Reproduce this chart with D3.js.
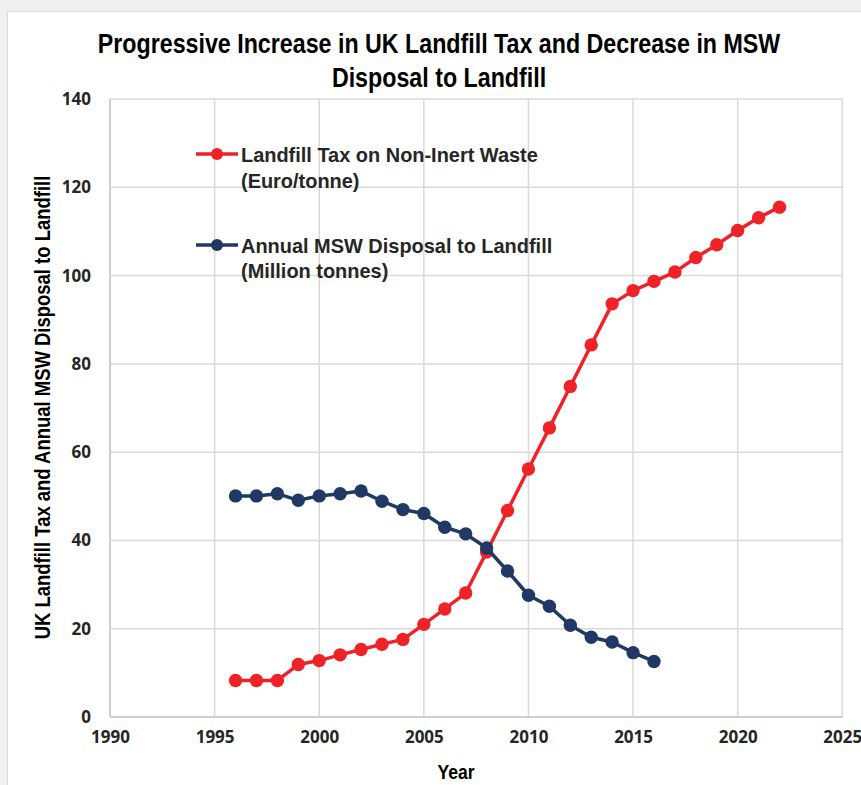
<!DOCTYPE html>
<html><head><meta charset="utf-8">
<script src="https://cdn.jsdelivr.net/npm/d3@7"></script>
<style>html,body{margin:0;padding:0;background:#f0f0f0;}svg{display:block;}</style>
</head><body>
<svg id="c" width="861" height="785"></svg>
<script>
const title = ["Progressive Increase in UK Landfill Tax and Decrease in MSW", "Disposal to Landfill"];
const xTicks = [1990, 1995, 2000, 2005, 2010, 2015, 2020, 2025];
const yTicks = [0, 20, 40, 60, 80, 100, 120, 140];
const taxYears = [1996,1997,1998,1999,2000,2001,2002,2003,2004,2005,2006,2007,2008,2009,2010,2011,2012,2013,2014,2015,2016,2017,2018,2019,2020,2021,2022];
const taxValues = [8.3,8.3,8.3,11.9,12.8,14.1,15.3,16.5,17.6,21.0,24.5,28.1,37.4,46.8,56.2,65.5,74.9,84.3,93.6,96.6,98.7,100.8,104.1,107.0,110.2,113.1,115.5];
const mswYears = [1996,1997,1998,1999,2000,2001,2002,2003,2004,2005,2006,2007,2008,2009,2010,2011,2012,2013,2014,2015,2016];
const mswValues = [50.1,50.1,50.6,49.1,50.1,50.6,51.2,48.9,47.0,46.1,43.0,41.5,38.3,33.1,27.6,25.1,20.8,18.1,17.0,14.6,12.6];
const seriesNames = [["Landfill Tax on Non-Inert Waste", "(Euro/tonne)"], ["Annual MSW Disposal to Landfill", "(Million tonnes)"]];
const seriesColors = ["#ee2227", "#1f3864"];
const xLabel = "Year";
const yLabel = "UK Landfill Tax and Annual MSW Disposal to Landfill";

const sans = "'Liberation Sans',Arial,sans-serif";
const tickFont = "'Open Sans',sans-serif";
const svg = d3.select("#c");

// narrow-looking text: place with a transform that compresses horizontally
function narrowText(parent, str, tx, ty, k, opts){
  const t = parent.append("text")
    .attr("transform", `translate(${tx},${ty})` + (opts.rotate ? ` rotate(${opts.rotate})` : "") + ` scale(${k},1)`)
    .attr("text-anchor", opts.anchor || "start")
    .attr("font-family", sans).attr("font-weight","bold")
    .attr("font-size", opts.size).attr("fill", opts.fill || "#000")
    .text(str);
  return t;
}

svg.append("rect").attr("x",0).attr("y",0).attr("width",861).attr("height",785).attr("fill","#f0f0f0");
svg.append("rect").attr("x",7.5).attr("y",11.5).attr("width",900).attr("height",800)
  .attr("fill","#fff").attr("stroke","#d9d9d9").attr("stroke-width",1);

const x = d3.scaleLinear().domain([1990,2025]).range([110,842.3]);
const y = d3.scaleLinear().domain([0,140]).range([717.1,99]);

// gridlines
const g = svg.append("g");
g.selectAll(".vg").data(xTicks).join("line")
  .attr("x1",d=>x(d)).attr("x2",d=>x(d)).attr("y1",y(140)).attr("y2",y(0))
  .attr("stroke","#d9d9d9").attr("stroke-width",1.5);
g.selectAll(".hg").data(yTicks).join("line")
  .attr("x1",x(1990)).attr("x2",x(2025)).attr("y1",d=>y(d)).attr("y2",d=>y(d))
  .attr("stroke","#d9d9d9").attr("stroke-width",1.5);
g.append("line").attr("x1",x(1990)).attr("x2",x(2025)).attr("y1",y(0)).attr("y2",y(0)).attr("stroke","#cfcfcf").attr("stroke-width",2);
g.append("line").attr("x1",x(1990)).attr("x2",x(1990)).attr("y1",y(0)).attr("y2",y(140)).attr("stroke","#cfcfcf").attr("stroke-width",2);

// axes via d3
const xAxis = d3.axisBottom(x).tickValues(xTicks).tickFormat(d3.format("d")).tickSize(0).tickPadding(14);
const xa = svg.append("g").attr("transform",`translate(0,${y(0)})`).call(xAxis);
xa.select(".domain").remove();
xa.selectAll("text").attr("font-family",tickFont).attr("font-weight","bold").attr("font-size","17px").attr("fill","#262626");

const yAxis = d3.axisLeft(y).tickValues(yTicks).tickSize(0).tickPadding(19);
const ya = svg.append("g").attr("transform",`translate(${x(1990)},0)`).call(yAxis);
ya.select(".domain").remove();
ya.selectAll("text").attr("font-family",tickFont).attr("font-weight","bold").attr("font-size","17px").attr("fill","#262626");

// series
const series = [
  {years: taxYears, values: taxValues, color: seriesColors[0]},
  {years: mswYears, values: mswValues, color: seriesColors[1]}
];
const line = d3.line().x(d=>x(d[0])).y(d=>y(d[1]));
series.forEach(s=>{
  const pts = s.years.map((yr,i)=>[yr, s.values[i]]);
  svg.append("path").datum(pts).attr("d",line).attr("fill","none").attr("stroke",s.color).attr("stroke-width",3.5).attr("stroke-linejoin","round");
  svg.append("g").selectAll("circle").data(pts).join("circle")
    .attr("cx",d=>x(d[0])).attr("cy",d=>y(d[1])).attr("r",6.7).attr("fill",s.color);
});

// title
title.forEach((t,i)=>narrowText(svg, t, 439, 53+i*33.5, 0.83, {anchor:"middle", size:"28px"}));

// legend
const leg = [{cy:154, base:[162,188]},{cy:245, base:[252.5,278]}];
leg.forEach((l,i)=>{
  svg.append("line").attr("x1",196).attr("x2",238).attr("y1",l.cy).attr("y2",l.cy).attr("stroke",seriesColors[i]).attr("stroke-width",3.5);
  svg.append("circle").attr("cx",217).attr("cy",l.cy).attr("r",6).attr("fill",seriesColors[i]);
  seriesNames[i].forEach((t,j)=>narrowText(svg, t, 241, l.base[j], 0.95, {size:"21px", fill:"#262626"}));
});

// axis titles
narrowText(svg, xLabel, 456, 779, 0.88, {anchor:"middle", size:"20px"});
narrowText(svg, yLabel, 50, 407.5, 0.84, {anchor:"middle", size:"22px", rotate:-90});
</script>
</body></html>
